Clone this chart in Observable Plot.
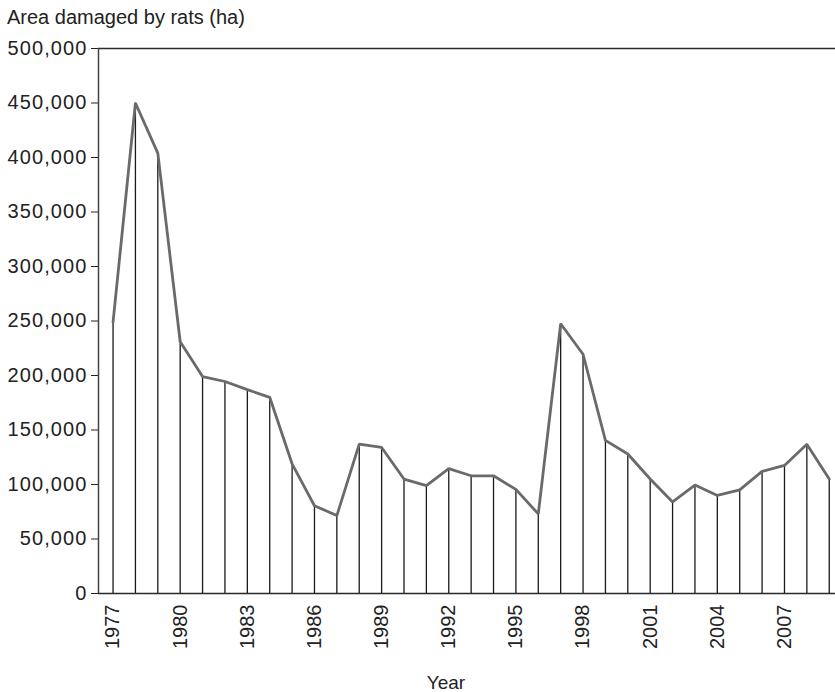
<!DOCTYPE html>
<html>
<head>
<meta charset="utf-8">
<script src="https://cdn.jsdelivr.net/npm/d3@7"></script>
<script src="https://cdn.jsdelivr.net/npm/@observablehq/plot@0.6"></script>
<style>
  html, body { margin: 0; padding: 0; background: #fff; overflow: hidden; }
  #wrap { position: relative; width: 835px; height: 692px; font-family: "Liberation Sans", Arial, sans-serif; color: #222; }
  #title { position: absolute; left: 7px; top: 7px; font-size: 20px; line-height: 20px; white-space: nowrap; }
  #xlabel { position: absolute; left: 446px; top: 674px; transform: translateX(-50%); font-size: 19px; line-height: 17px; white-space: nowrap; }
  #chart { position: absolute; left: 0; top: 38px; }
  #chart g[aria-label="y-axis tick label"] text { letter-spacing: 1.1px; }
</style>
</head>
<body>
<div id="wrap">
  <div id="title">Area damaged by rats (ha)</div>
  <div id="chart"></div>
  <div id="xlabel">Year</div>
</div>
<script>
const years = [1977,1978,1979,1980,1981,1982,1983,1984,1985,1986,1987,1988,1989,1990,1991,1992,1993,1994,1995,1996,1997,1998,1999,2000,2001,2002,2003,2004,2005,2006,2007,2008,2009];
const areaDamaged = [249000,450000,404000,231000,199000,194500,187000,180000,119000,80500,71500,137000,134000,105000,99000,114500,108000,108000,95500,73000,247500,219500,140500,128000,105000,84000,99500,90000,95000,112000,117500,137000,105000];
const xTicks = [1977,1980,1983,1986,1989,1992,1995,1998,2001,2004,2007];
const yTicks = [0,50000,100000,150000,200000,250000,300000,350000,400000,450000,500000];
const xDomain = [1976.35, 2009.28];
const yDomain = [0, 500000];

const data = years.map((y, i) => ({year: y, value: areaDamaged[i]}));
const fmt = d3.format(",");

const chart = Plot.plot({
  width: 835,
  height: 627,
  marginTop: 10,
  marginBottom: 72,
  marginLeft: 98,
  marginRight: 0,
  style: {fontFamily: "'Liberation Sans', Arial, sans-serif", fontSize: "20px", color: "#222", background: "#fff"},
  x: {domain: xDomain, ticks: xTicks, tickFormat: d => String(d), tickRotate: -90, tickSize: 0, tickPadding: 11, label: null},
  y: {domain: yDomain, ticks: yTicks, tickFormat: fmt, tickSize: 7, tickPadding: 4, label: null},
  marks: [
    Plot.ruleX(data, {x: "year", y1: 0, y2: "value", stroke: "#1a1a1a", strokeWidth: 1.3}),
    Plot.line(data, {x: "year", y: "value", stroke: "#6a6a6a", strokeWidth: 2.8, strokeLinejoin: "miter"}),
    Plot.ruleY([yDomain[0], yDomain[1]], {stroke: "#2a2a2a", strokeWidth: 1.5}),
    Plot.ruleX([xDomain[0]], {stroke: "#444", strokeWidth: 1.5})
  ]
});
document.getElementById("chart").appendChild(chart);
</script>
</body>
</html>
